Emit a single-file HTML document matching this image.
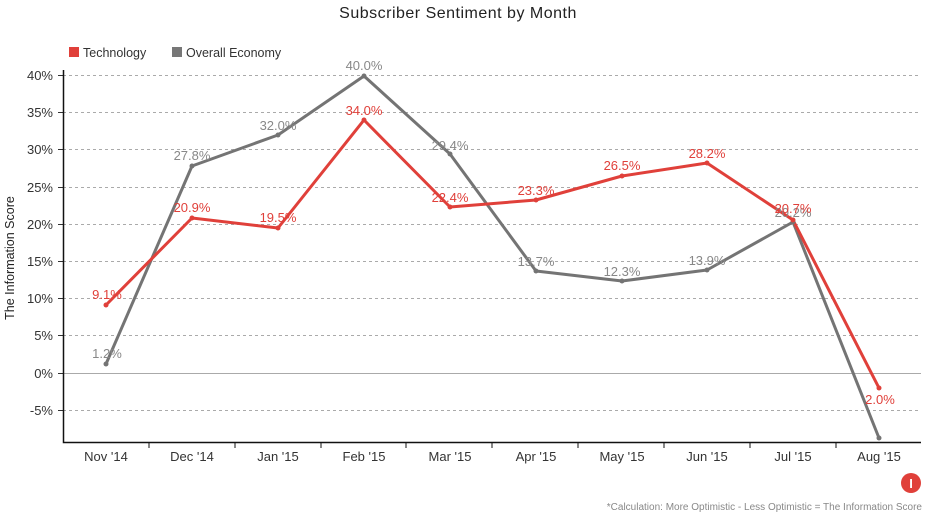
<!DOCTYPE html>
<html><head><meta charset="utf-8"><style>
body{margin:0;background:#fff;}
svg{display:block;font-family:"Liberation Sans",sans-serif;}
</style></head><body>
<svg width="930" height="523" viewBox="0 0 930 523">
<text x="458" y="18" font-size="16" text-anchor="middle" fill="#222" letter-spacing="0.5">Subscriber Sentiment by Month</text>
<rect x="69" y="47" width="10" height="10" fill="#e0403a"/>
<text x="83" y="57" font-size="12.5" fill="#333">Technology</text>
<rect x="172" y="47" width="10" height="10" fill="#777"/>
<text x="186" y="57" font-size="12.5" fill="#333">Overall Economy</text>
<g stroke="#aaa" stroke-dasharray="3,3" stroke-width="1">
<line x1="63" x2="921" y1="75.5" y2="75.5"/><line x1="63" x2="921" y1="112.5" y2="112.5"/>
<line x1="63" x2="921" y1="149.5" y2="149.5"/><line x1="63" x2="921" y1="187.5" y2="187.5"/>
<line x1="63" x2="921" y1="224.5" y2="224.5"/><line x1="63" x2="921" y1="261.5" y2="261.5"/>
<line x1="63" x2="921" y1="298.5" y2="298.5"/><line x1="63" x2="921" y1="335.5" y2="335.5"/>
<line x1="63" x2="921" y1="410.5" y2="410.5"/>
</g>
<line x1="63" x2="921" y1="373.5" y2="373.5" stroke="#aaa"/>
<g font-size="13" fill="#333" text-anchor="end">
<text x="53" y="80">40%</text><text x="53" y="117">35%</text><text x="53" y="154">30%</text>
<text x="53" y="192">25%</text><text x="53" y="229">20%</text><text x="53" y="266">15%</text>
<text x="53" y="303">10%</text><text x="53" y="340">5%</text><text x="53" y="378">0%</text>
<text x="53" y="415">-5%</text>
</g>
<g stroke="#333"><line x1="58" x2="63" y1="75.5" y2="75.5"/><line x1="58" x2="63" y1="112.5" y2="112.5"/><line x1="58" x2="63" y1="149.5" y2="149.5"/><line x1="58" x2="63" y1="187.5" y2="187.5"/><line x1="58" x2="63" y1="224.5" y2="224.5"/><line x1="58" x2="63" y1="261.5" y2="261.5"/><line x1="58" x2="63" y1="298.5" y2="298.5"/><line x1="58" x2="63" y1="335.5" y2="335.5"/><line x1="58" x2="63" y1="373.5" y2="373.5"/><line x1="58" x2="63" y1="410.5" y2="410.5"/></g>
<path d="M63.5 70 V442.5 H921" fill="none" stroke="#111" stroke-width="1.5"/>
<g stroke="#111"><line x1="149" x2="149" y1="442" y2="448"/><line x1="235" x2="235" y1="442" y2="448"/><line x1="321" x2="321" y1="442" y2="448"/><line x1="406" x2="406" y1="442" y2="448"/><line x1="492" x2="492" y1="442" y2="448"/><line x1="578" x2="578" y1="442" y2="448"/><line x1="664" x2="664" y1="442" y2="448"/><line x1="750" x2="750" y1="442" y2="448"/><line x1="836" x2="836" y1="442" y2="448"/></g>
<g font-size="13" fill="#333" text-anchor="middle">
<text x="106" y="461">Nov '14</text><text x="192" y="461">Dec '14</text><text x="278" y="461">Jan '15</text><text x="364" y="461">Feb '15</text><text x="450" y="461">Mar '15</text><text x="536" y="461">Apr '15</text><text x="622" y="461">May '15</text><text x="707" y="461">Jun '15</text><text x="793" y="461">Jul '15</text><text x="879" y="461">Aug '15</text>
</g>
<text x="14" y="258" font-size="12.5" fill="#222" text-anchor="middle" transform="rotate(-90 14 258)">The Information Score</text>
<polyline fill="none" stroke="#747474" stroke-width="3" stroke-linejoin="round" points="106,364 192,166 278,135 364,76 450,154 536,271 622,281 707,270 793,222 879,438"/>
<polyline fill="none" stroke="#e0403a" stroke-width="3" stroke-linejoin="round" points="106,305 192,218 278,228 364,120 450,207 536,200 622,176 707,163 793,220 879,388"/>
<g fill="#747474"><circle cx="106" cy="364" r="2.5"/><circle cx="192" cy="166" r="2.5"/><circle cx="278" cy="135" r="2.5"/><circle cx="364" cy="76" r="2.5"/><circle cx="450" cy="154" r="2.5"/><circle cx="536" cy="271" r="2.5"/><circle cx="622" cy="281" r="2.5"/><circle cx="707" cy="270" r="2.5"/><circle cx="793" cy="222" r="2.5"/><circle cx="879" cy="438" r="2.5"/></g>
<g fill="#e0403a"><circle cx="106" cy="305" r="2.5"/><circle cx="192" cy="218" r="2.5"/><circle cx="278" cy="228" r="2.5"/><circle cx="364" cy="120" r="2.5"/><circle cx="450" cy="207" r="2.5"/><circle cx="536" cy="200" r="2.5"/><circle cx="622" cy="176" r="2.5"/><circle cx="707" cy="163" r="2.5"/><circle cx="793" cy="220" r="2.5"/><circle cx="879" cy="388" r="2.5"/></g>
<g font-size="13" fill="#888" text-anchor="middle">
<text x="107" y="358">1.2%</text><text x="192" y="160">27.8%</text><text x="278" y="130">32.0%</text><text x="364" y="70">40.0%</text><text x="450" y="150">29.4%</text><text x="536" y="266">13.7%</text><text x="622" y="276">12.3%</text><text x="707" y="265">13.9%</text><text x="793" y="217">20.2%</text>
</g>
<g font-size="13" fill="#e0403a" text-anchor="middle">
<text x="107" y="299">9.1%</text><text x="192" y="212">20.9%</text><text x="278" y="222">19.5%</text><text x="364" y="115">34.0%</text><text x="450" y="202">22.4%</text><text x="536" y="195">23.3%</text><text x="622" y="170">26.5%</text><text x="707" y="158">28.2%</text><text x="793" y="213">20.7%</text><text x="880" y="404">2.0%</text>
</g>
<circle cx="911" cy="483" r="10" fill="#e0403a"/>
<text x="911" y="488" font-size="13" font-weight="bold" fill="#fff" text-anchor="middle">I</text>
<text x="922" y="510" font-size="10" fill="#888" text-anchor="end">*Calculation: More Optimistic - Less Optimistic = The Information Score</text>
</svg>
</body></html>
